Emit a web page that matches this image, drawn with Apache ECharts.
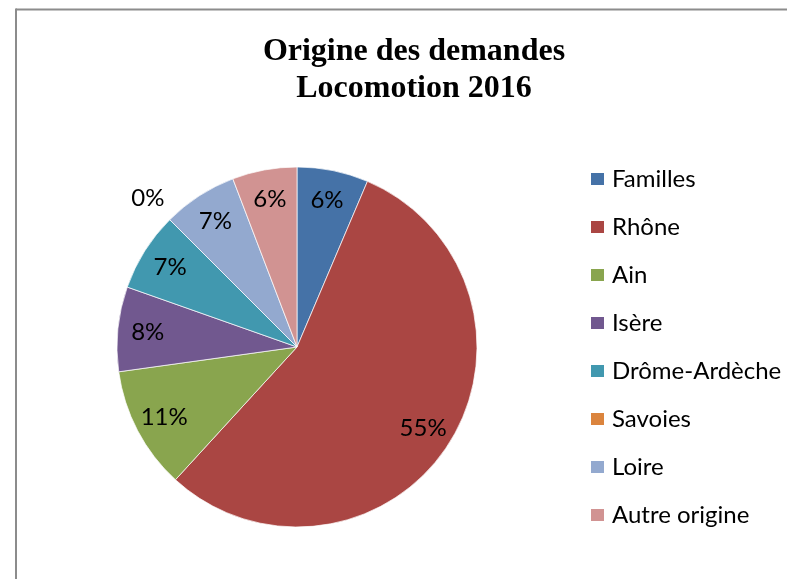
<!DOCTYPE html>
<html><head><meta charset="utf-8">
<script src="https://cdn.jsdelivr.net/npm/echarts@6/dist/echarts.min.js"></script>
<style>html,body{margin:0;padding:0;background:#fff}#c{width:787px;height:579px}</style>
</head><body><div id="c"></div>
<script>
const titleLines = ['Origine des demandes', 'Locomotion 2016'];
const categories = ['Familles', 'Rhône', 'Ain', 'Isère', 'Drôme-Ardèche', 'Savoies', 'Loire', 'Autre origine'];
const values = [6.4, 55.4, 11.0, 7.6, 7.1, 0, 6.7, 5.8];
const colors = ['#4572A7', '#AA4643', '#89A54E', '#71588F', '#4198AF', '#DB843D', '#93A9CF', '#D19392'];

const center = [297, 347];
const labelFont = { fontFamily: 'Lato', fontSize: 24, color: '#000' };

const fillData = categories.map((n, i) => ({ name: n, value: values[i], itemStyle: { color: colors[i] } }));
const innerLabelData = categories.map((n, i) => ({
  name: n, value: values[i],
  label: { show: values[i] !== 0 }
}));
const outerLabelData = categories.map((n, i) => ({
  name: n, value: values[i],
  label: { show: values[i] === 0 }
}));

const chart = echarts.init(document.getElementById('c'), null, { renderer: 'canvas' });
chart.setOption({
  animation: false,
  backgroundColor: '#fff',
  color: colors,
  title: {
    text: titleLines.join('\n'),
    left: 409, top: 28, textAlign: 'center',
    textStyle: { fontFamily: 'Liberation Serif', fontWeight: 'bold', fontSize: 32, lineHeight: 37, color: '#000' }
  },
  legend: {
    orient: 'vertical', left: 584, top: 161,
    itemWidth: 15, itemHeight: 14, itemGap: 22, icon: 'rect',
    textStyle: { fontFamily: 'Lato', fontSize: 24, lineHeight: 26, color: '#000', padding: [0, 0, 0, 2] },
    data: categories
  },
  graphic: [
    { type: 'line', shape: { x1: 16, y1: 9.5, x2: 787, y2: 9.5 }, style: { stroke: '#8c8c8c', lineWidth: 2 } },
    { type: 'line', shape: { x1: 16, y1: 8.5, x2: 16, y2: 579 }, style: { stroke: '#8c8c8c', lineWidth: 2 } }
  ],
  series: [
    {
      type: 'pie', center: center, radius: [0, 180], startAngle: 90, clockwise: true,
      avoidLabelOverlap: false, silent: true,
      itemStyle: { borderColor: '#fff', borderWidth: 0.7 },
      label: { show: false }, labelLine: { show: false },
      data: fillData
    },
    {
      type: 'pie', center: center, radius: [114, 180], startAngle: 90, clockwise: true,
      avoidLabelOverlap: false, silent: true, percentPrecision: 0, legendHoverLink: false,
      itemStyle: { color: 'rgba(0,0,0,0)', borderWidth: 0 },
      label: Object.assign({ position: 'inside', formatter: '{d}%' }, labelFont),
      labelLine: { show: false }, minShowLabelAngle: 0,
      data: innerLabelData
    },
    {
      type: 'pie', center: center, radius: [180, 236], startAngle: 90, clockwise: true,
      avoidLabelOverlap: false, silent: true, percentPrecision: 0, legendHoverLink: false,
      itemStyle: { color: 'rgba(0,0,0,0)', borderWidth: 0 },
      label: Object.assign({ position: 'inside', formatter: '{d}%' }, labelFont),
      labelLine: { show: false }, minShowLabelAngle: 0,
      data: outerLabelData
    }
  ]
});
</script></body></html>
